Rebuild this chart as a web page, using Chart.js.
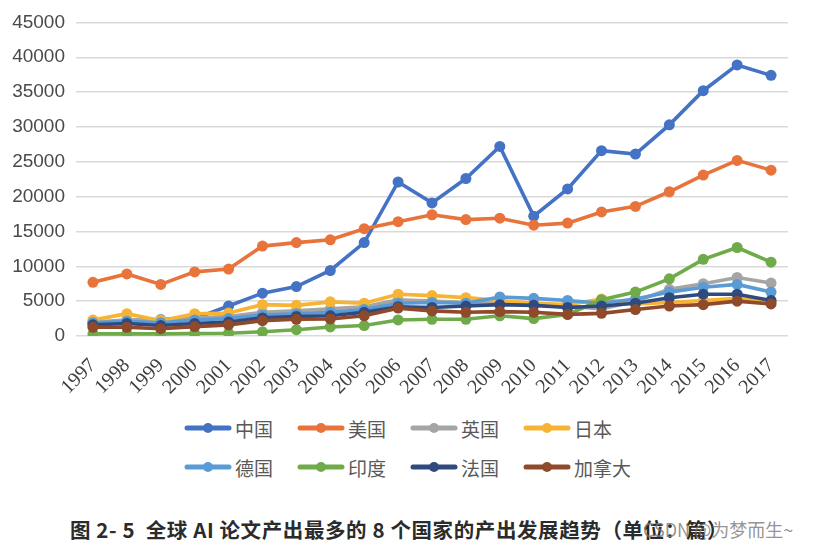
<!DOCTYPE html>
<html>
<head>
<meta charset="utf-8">
<script src="https://cdn.jsdelivr.net/npm/chart.js@4/dist/chart.umd.min.js"></script>
<style>
  html, body { margin: 0; padding: 0; background: #fff; }
  #page { position: relative; width: 818px; height: 549px; overflow: hidden; }
  #chartBox { position: absolute; left: 0; top: 0; width: 818px; height: 400px; }
  .legend-item { position: absolute; height: 30px; display: flex; align-items: center;
    font: 19px "Noto Sans CJK SC", sans-serif; color: #595959; }
  .legend-item canvas { margin-right: 3px; }
  #caption { position: absolute; left: 70px; top: 515px; white-space: nowrap;
    font: bold 20.5px "Noto Sans CJK SC", sans-serif; letter-spacing: 0.6px; color: #2b2b2b; line-height: 28px; }
  #mark { position: absolute; left: 643px; top: 517px; white-space: nowrap;
    font: 18px "Noto Sans CJK SC", sans-serif; color: rgba(120,120,120,0.8); line-height: 24px; }
</style>
</head>
<body>
<div id="page">
  <div id="chartBox"><canvas id="chart"></canvas></div>
  <div id="legend"></div>
  <div id="caption">图 2- 5&nbsp; 全球 AI 论文产出最多的 8 个国家的产出发展趋势（单位：篇）</div>
  <div id="mark">CSDN @为梦而生~</div>
</div>
<script>
// years on the x axis
const years = ['1997','1998','1999','2000','2001','2002','2003','2004','2005','2006','2007',
  '2008','2009','2010','2011','2012','2013','2014','2015','2016','2017'];

// papers per year
const china   = [1800, 2000, 1700, 2500, 4300, 6150, 7100, 9400, 13400, 22100, 19100,
  22600, 27200, 17200, 21100, 26600, 26100, 30300, 35200, 38900, 37400];
const usa     = [7700, 8900, 7400, 9200, 9600, 12900, 13400, 13800, 15400, 16400, 17400,
  16700, 16900, 15900, 16200, 17800, 18600, 20700, 23100, 25200, 23800];
const uk      = [2000, 2300, 2400, 2600, 2800, 3400, 3600, 3900, 4200, 5200, 5000,
  4800, 4800, 4500, 4300, 3900, 5000, 6700, 7500, 8400, 7600];
const japan   = [2300, 3200, 2200, 3200, 3300, 4500, 4400, 4900, 4700, 6000, 5800,
  5500, 5100, 4700, 4500, 5300, 4600, 4800, 5100, 5400, 4900];
const germany = [1900, 2100, 1900, 2300, 2500, 3000, 3200, 3400, 3800, 4700, 4800,
  4700, 5600, 5400, 5100, 4700, 5300, 6300, 7000, 7400, 6300];
const india   = [300, 300, 300, 350, 400, 600, 900, 1300, 1500, 2300, 2400,
  2400, 2900, 2500, 3100, 5200, 6300, 8200, 11000, 12700, 10600];
const france  = [1600, 1800, 1500, 1800, 2000, 2600, 2800, 2900, 3400, 4200, 4100,
  4300, 4500, 4400, 4100, 4300, 4700, 5500, 6000, 6000, 5100];
const canada  = [1250, 1250, 1050, 1350, 1600, 2200, 2400, 2450, 2900, 4000, 3600,
  3400, 3500, 3400, 3100, 3250, 3800, 4300, 4500, 5000, 4600];

const yTicks = [0, 5000, 10000, 15000, 20000, 25000, 30000, 35000, 40000, 45000];

const seriesNames  = ['中国', '美国', '英国', '日本', '德国', '印度', '法国', '加拿大'];
const seriesValues = [china, usa, uk, japan, germany, india, france, canada];
const seriesColors = ['#4472C4', '#E8743B', '#A5A5A5', '#F7B334', '#5B9BD5', '#6FAA4B', '#2E4A7F', '#8E4A2A'];

const datasets = seriesNames.map((name, i) => ({
  label: name,
  data: seriesValues[i],
  borderColor: seriesColors[i],
  backgroundColor: seriesColors[i],
  pointBackgroundColor: seriesColors[i],
  pointBorderWidth: 0,
  pointRadius: 5.5,
  borderWidth: 3.6,
  tension: 0,
  order: seriesNames.length - i,   // later series drawn on top, like the original
}));

const ctx = document.getElementById('chart').getContext('2d');
new Chart(ctx, {
  type: 'line',
  data: { labels: years, datasets },
  options: {
    responsive: true,
    maintainAspectRatio: false,
    animation: false,
    layout: { padding: { top: 14, right: 30, left: 0, bottom: 0 } },
    plugins: { legend: { display: false }, tooltip: { enabled: false } },
    scales: {
      x: {
        offset: true,
        grid: { display: false, drawTicks: false },
        border: { display: false },
        ticks: {
          color: '#404040',
          font: { family: 'Liberation Serif, DejaVu Serif, serif', size: 20 },
          minRotation: 45,
          maxRotation: 45,
          padding: 18,
          autoSkip: false,
        },
        afterFit: (scale) => { scale.height = 64; },
      },
      y: {
        min: 0,
        max: 45000,
        afterBuildTicks: (scale) => { scale.ticks = yTicks.map(v => ({ value: v })); },
        grid: { color: '#D9D9D9', lineWidth: 1.4, drawTicks: false },
        border: { display: false },
        ticks: {
          color: '#4a4a4a',
          font: { family: 'Liberation Sans, Arial, sans-serif', size: 19 },
          padding: 11,
          callback: (v) => String(v),
        },
        afterFit: (scale) => { scale.width = 76; },
      },
    },
  },
});

// legend: two rows of four, thick line with a dot, as in the source
const legendLeft = [184, 297, 410, 523];
const legendTop  = [413, 452];
const legendBox = document.getElementById('legend');
seriesNames.forEach((name, i) => {
  const item = document.createElement('div');
  item.className = 'legend-item';
  item.style.left = legendLeft[i % 4] + 'px';
  item.style.top = legendTop[Math.floor(i / 4)] + 'px';
  const c = document.createElement('canvas');
  c.width = 48; c.height = 14;
  const g = c.getContext('2d');
  g.strokeStyle = seriesColors[i];
  g.fillStyle = seriesColors[i];
  g.lineWidth = 5;
  g.lineCap = 'round';
  g.beginPath(); g.moveTo(3, 7); g.lineTo(45, 7); g.stroke();
  g.beginPath(); g.arc(24, 7, 5, 0, Math.PI * 2); g.fill();
  item.appendChild(c);
  const t = document.createElement('span');
  t.textContent = name;
  item.appendChild(t);
  legendBox.appendChild(item);
});
</script>
</body>
</html>
